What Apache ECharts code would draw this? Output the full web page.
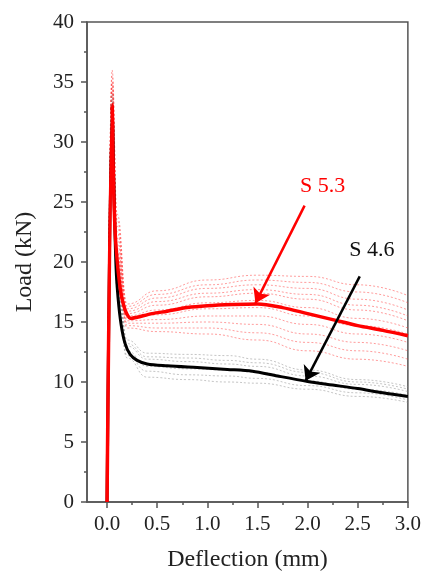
<!DOCTYPE html>
<html>
<head>
<meta charset="utf-8">
<script src="https://cdn.jsdelivr.net/npm/echarts@6/dist/echarts.min.js"></script>
<style>
html, body { margin: 0; padding: 0; background: #fff; }
#chart { width: 424px; height: 577px; }
</style>
</head>
<body>
<div id="chart"></div>
<script>
// [deflection mm, load kN]
const meanS53 = [[0, 0], [0.05, 33.1], [0.063, 27], [0.08, 22.6], [0.1, 20.2], [0.125, 18.2], [0.15, 16.9],
  [0.19, 15.8], [0.24, 15.3], [0.3, 15.4], [0.45, 15.7], [0.6, 15.9], [0.8, 16.2], [1.0, 16.35], [1.25, 16.45],
  [1.5, 16.5], [1.75, 16.2], [2.0, 15.7], [2.25, 15.2], [2.5, 14.7], [2.75, 14.3], [3.0, 13.85]]
const meanS46 = [[0, 0], [0.05, 33], [0.07, 25.5], [0.09, 19.5], [0.11, 17.0], [0.14, 14.8], [0.18, 13.2],
  [0.23, 12.3], [0.3, 11.8], [0.4, 11.5], [0.6, 11.35], [0.9, 11.2], [1.2, 11.05], [1.45, 10.9], [1.7, 10.5],
  [2.0, 10.05], [2.25, 9.75], [2.5, 9.45], [2.75, 9.1], [3.0, 8.8]]

// single specimens (dotted)
const specS53 = [
  [[0, 0], [0.05, 36], [0.1, 24], [0.2, 16.5], [0.5, 17.6], [1.0, 18.5], [1.5, 18.9], [2.0, 18.8], [2.5, 18.1], [3.0, 17.2]],
  [[0, 0], [0.05, 35.5], [0.1, 23.5], [0.2, 16.3], [0.5, 17.3], [1.0, 18.1], [1.5, 18.5], [2.0, 18.3], [2.5, 17.5], [3.0, 16.6]],
  [[0, 0], [0.05, 35], [0.1, 23], [0.2, 16.1], [0.5, 17.0], [1.0, 17.8], [1.5, 18.1], [2.0, 17.8], [2.5, 16.9], [3.0, 16.0]],
  [[0, 0], [0.05, 34.8], [0.1, 22.5], [0.2, 15.9], [0.5, 16.7], [1.0, 17.4], [1.5, 17.7], [2.0, 17.3], [2.5, 16.4], [3.0, 15.5]],
  [[0, 0], [0.05, 34.5], [0.1, 22], [0.2, 15.7], [0.5, 16.4], [1.0, 17.1], [1.5, 17.4], [2.0, 16.9], [2.5, 16.0], [3.0, 15.1]],
  [[0, 0], [0.05, 34.2], [0.1, 21.5], [0.2, 15.5], [0.5, 16.0], [1.0, 16.6], [1.5, 16.8], [2.0, 16.2], [2.5, 15.3], [3.0, 14.5]],
  [[0, 0], [0.05, 34], [0.1, 21], [0.2, 15.3], [0.5, 15.6], [1.0, 16.1], [1.5, 16.2], [2.0, 15.5], [2.5, 14.7], [3.0, 14.0]],
  [[0, 0], [0.05, 33.8], [0.1, 20.8], [0.2, 15.1], [0.5, 15.2], [1.0, 15.5], [1.5, 15.5], [2.0, 14.8], [2.5, 14.0], [3.0, 13.3]],
  [[0, 0], [0.05, 33.5], [0.1, 20.5], [0.2, 14.9], [0.5, 14.9], [1.0, 15.0], [1.5, 14.8], [2.0, 14.0], [2.5, 13.3], [3.0, 12.6]],
  [[0, 0], [0.05, 33.2], [0.1, 20.2], [0.2, 14.7], [0.5, 14.5], [1.0, 14.5], [1.5, 14.1], [2.0, 13.3], [2.5, 12.6], [3.0, 11.9]],
  [[0, 0], [0.05, 33], [0.1, 20], [0.2, 14.5], [0.5, 14.2], [1.0, 14.0], [1.5, 13.5], [2.0, 12.6], [2.5, 11.9], [3.0, 11.3]]
]
const specS46 = [
  [[0, 0], [0.05, 34], [0.1, 20], [0.2, 13.5], [0.4, 12.4], [0.8, 12.3], [1.2, 12.2], [1.5, 11.9], [2.0, 11.0], [2.5, 10.2], [3.0, 9.6]],
  [[0, 0], [0.05, 33.5], [0.1, 19.5], [0.2, 13.2], [0.4, 12.1], [0.8, 12.0], [1.2, 11.8], [1.5, 11.6], [2.0, 10.8], [2.5, 10.0], [3.0, 9.4]],
  [[0, 0], [0.05, 33], [0.1, 19], [0.2, 13.0], [0.4, 11.9], [0.8, 11.7], [1.2, 11.5], [1.5, 11.3], [2.0, 10.5], [2.5, 9.8], [3.0, 9.2]],
  [[0, 0], [0.05, 32.5], [0.1, 18.5], [0.2, 12.6], [0.4, 11.3], [0.8, 11.1], [1.2, 11.0], [1.5, 10.8], [2.0, 10.1], [2.5, 9.4], [3.0, 8.9]],
  [[0, 0], [0.05, 32], [0.1, 18], [0.2, 12.2], [0.4, 10.9], [0.8, 10.6], [1.2, 10.5], [1.5, 10.3], [2.0, 9.7], [2.5, 9.1], [3.0, 8.5]],
  [[0, 0], [0.05, 31.5], [0.1, 17.5], [0.2, 12.0], [0.4, 10.4], [0.8, 10.2], [1.2, 10.0], [1.5, 9.9], [2.0, 9.4], [2.5, 8.8], [3.0, 8.3]]
]

const xTicks = [0, 0.5, 1.0, 1.5, 2.0, 2.5, 3.0]
const xMinorTicks = [0.25, 0.75, 1.25, 1.75, 2.25, 2.75]

// annotation arrows [from, to] and labels
const arrowS53 = [[1.97, 24.7], [1.48, 16.57]]
const arrowS46 = [[2.52, 18.8], [1.98, 10.1]]
const labelS53 = [2.15, 26.35]
const labelS46 = [2.64, 21.0]

const FONT = 'Liberation Serif'
const AXIS_COLOR = '#555'

const chart = echarts.init(document.getElementById('chart'))

const specSeries = []
specS53.forEach(d => {
  specSeries.push({
    type: 'line', data: d, symbol: 'none', smooth: 0.5, smoothMonotone: 'x', z: 1, silent: true,
    lineStyle: { color: 'rgba(255,60,60,0.5)', width: 1, type: [2, 2] }
  })
})
specS46.forEach(d => {
  specSeries.push({
    type: 'line', data: d, symbol: 'none', smooth: 0.5, smoothMonotone: 'x', z: 1, silent: true,
    lineStyle: { color: 'rgba(140,140,140,0.5)', width: 1, type: [2, 2] }
  })
})

function arrow(pts, color) {
  return {
    silent: true,
    symbol: ['none', 'arrow'],
    symbolSize: 14,
    label: { show: false },
    lineStyle: { color: color, width: 2.5, type: 'solid' },
    data: [[{ coord: pts[0] }, { coord: pts[1] }]]
  }
}

function textMark(pos, text, color) {
  return {
    silent: true,
    symbol: 'circle',
    symbolSize: 0,
    itemStyle: { color: 'transparent' },
    label: { show: true, position: 'inside', formatter: text, color: color, fontSize: 22, fontFamily: FONT },
    data: [{ coord: pos }]
  }
}

const option = {
  animation: false,
  grid: {
    left: 87, right: 16, top: 22, bottom: 72,
    show: true, borderColor: AXIS_COLOR, borderWidth: 1.5
  },
  xAxis: [
    {
      type: 'value', min: -0.2, max: 3.0,
      name: 'Deflection (mm)', nameLocation: 'middle', nameGap: 46,
      nameTextStyle: { fontFamily: FONT, fontSize: 24, color: '#222' },
      axisLine: { show: true, onZero: false, lineStyle: { color: AXIS_COLOR, width: 1.5 } },
      axisTick: { show: true, customValues: xTicks, length: 6, lineStyle: { color: AXIS_COLOR, width: 1.5 } },
      axisLabel: {
        customValues: xTicks, margin: 12, fontFamily: FONT, fontSize: 21, color: '#222',
        formatter: v => v.toFixed(1)
      },
      splitLine: { show: false }
    },
    {
      type: 'value', min: -0.2, max: 3.0, position: 'bottom', gridIndex: 0,
      axisLine: { show: false, onZero: false },
      axisTick: { show: true, customValues: xMinorTicks, length: 3, lineStyle: { color: AXIS_COLOR, width: 1.5 } },
      axisLabel: { show: false },
      splitLine: { show: false }
    }
  ],
  yAxis: {
    type: 'value', min: 0, max: 40, interval: 5,
    name: 'Load (kN)', nameLocation: 'middle', nameGap: 50,
    nameTextStyle: { fontFamily: FONT, fontSize: 24, color: '#222' },
    axisLine: { show: true, onZero: false, lineStyle: { color: AXIS_COLOR, width: 1.5 } },
    axisTick: { show: true, length: 6, lineStyle: { color: AXIS_COLOR, width: 1.5 } },
    minorTick: { show: true, splitNumber: 2, length: 3, lineStyle: { color: AXIS_COLOR, width: 1.5 } },
    axisLabel: { margin: 13, fontFamily: FONT, fontSize: 21, color: '#222' },
    splitLine: { show: false }
  },
  series: specSeries.concat([
    {
      name: 'S 4.6', type: 'line', data: meanS46, symbol: 'none', smooth: 0.3, z: 3,
      lineStyle: { color: '#000', width: 3, join: 'round' },
      markLine: arrow(arrowS46, '#000'),
      markPoint: textMark(labelS46, 'S 4.6', '#111')
    },
    {
      name: 'S 5.3', type: 'line', data: meanS53, symbol: 'none', smooth: 0.3, z: 4,
      lineStyle: { color: '#ff0000', width: 3.5, join: 'round' },
      markLine: arrow(arrowS53, '#ff0000'),
      markPoint: textMark(labelS53, 'S 5.3', '#ff0000')
    }
  ])
}

chart.setOption(option)
</script>
</body>
</html>
